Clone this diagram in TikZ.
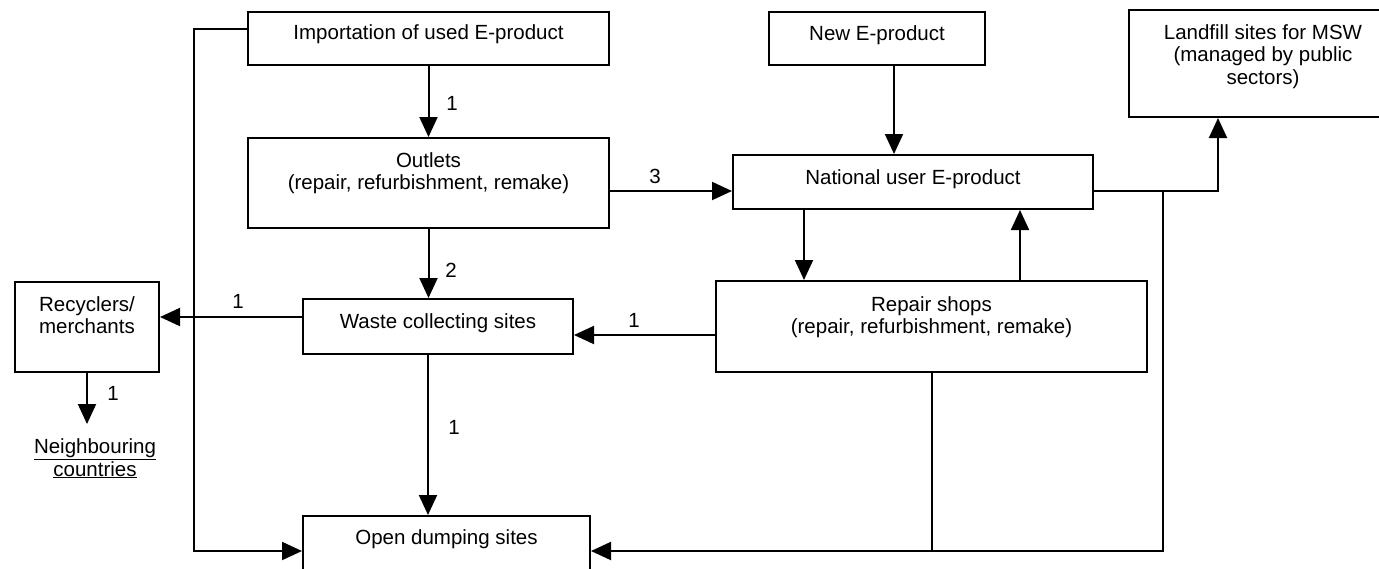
\documentclass[tikz,border=0pt]{standalone}
\usepackage{fontspec}
\setmainfont{Liberation Sans}
\usetikzlibrary{arrows.meta}
\begin{document}
\begin{tikzpicture}[x=1pt,y=-1pt,
  line width=2pt,
  box/.style={draw, line width=2pt, inner sep=0pt, anchor=north west},
  txt/.style={anchor=base, align=center, inner sep=0pt,
    font=\fontsize{20.5}{22.5}\selectfont},
  num/.style={anchor=base, inner sep=0pt, font=\fontsize{20.5}{22.5}\selectfont},
  flow/.style={-{Triangle[length=20pt,width=18pt]}}]
\useasboundingbox (0,0) rectangle (1379,568);
\clip (0,0) rectangle (1379,568);

% boxes
\node[box, minimum width=361pt, minimum height=53pt] (imp) at (247,11) {};
\node[box, minimum width=361pt, minimum height=90pt] (out) at (247,137) {};
\node[box, minimum width=216pt, minimum height=53pt] (new) at (768,11) {};
\node[box, minimum width=268pt, minimum height=107pt] (land) at (1128,9) {};
\node[box, minimum width=360pt, minimum height=54pt] (nat) at (732,154) {};
\node[box, minimum width=431pt, minimum height=91pt] (rep) at (715,280) {};
\node[box, minimum width=270pt, minimum height=55pt] (waste) at (302,298) {};
\node[box, minimum width=144pt, minimum height=90pt] (rec) at (14,281) {};
\node[box, minimum width=287pt, minimum height=55pt] (dump) at (302,515) {};

% box texts (anchored on the baseline of the last line)
\node[txt] (impT) at ([yshift=-28pt]imp.north) {Importation of used E-product};
\node[txt] (outT) at ([yshift=-52.5pt]out.north) {Outlets\\(repair, refurbishment, remake)};
\node[txt] (newT) at ([yshift=-29pt]new.north) {New E-product};
\node[txt] (landT) at ([yshift=-75pt]land.north) {Landfill sites for MSW\\(managed by public\\sectors)};
\node[txt] (natT) at ([yshift=-30pt]nat.north) {National user E-product};
\node[txt] (repT) at ([yshift=-53.5pt]rep.north) {Repair shops\\(repair, refurbishment, remake)};
\node[txt] (wasteT) at ([yshift=-30pt]waste.north) {Waste collecting sites};
\node[txt] (recT) at ([yshift=-52.5pt]rec.north) {Recyclers/\\merchants};
\node[txt] (dumpT) at ([yshift=-29pt]dump.north) {Open dumping sites};
\node[txt] (neigh) at (95,476) {\underline{Neighbouring}\\\underline{countries}};

% routing levels
\coordinate (lx) at (194,29);
\coordinate (dy) at (0,551);
\coordinate (ry) at (0,191);
\coordinate (ax) at (428,0);
\coordinate (nx) at (894,0);
\coordinate (dx) at (804,0);
\coordinate (ux) at (1020,0);
\coordinate (fx) at (1218,0);
\coordinate (jx) at (1163,191);
\coordinate (wy) at (0,335);
\coordinate (ky) at (0,317);
\coordinate (nb) at (0,424);

% connectors
\draw[flow] (imp.west |- lx) -- (lx) |- (dump.west |- dy);
\draw[flow] (imp.south) -- (out.north);
\draw[flow] (out.south) -- (out.south |- waste.north);
\draw[flow] (waste.south -| ax) -- (dump.north -| ax);
\draw[flow] (out.east |- ry) -- (nat.west |- ry);
\draw[flow] (new.south -| nx) -- (nat.north -| nx);
\draw[flow] (nat.south -| dx) -- (rep.north -| dx);
\draw[flow] (rep.north -| ux) -- (nat.south -| ux);
\draw[flow] (nat.east |- ry) -| (land.south -| fx);
\draw[flow] (jx) |- (dump.east |- dy);
\draw (rep.south) -- (rep.south |- dy);
\draw[flow] (rep.west |- wy) -- (waste.east |- wy);
\draw[flow] (waste.west |- ky) -- (rec.east |- ky);
\draw[flow] (rec.south) -- (rec.south |- nb);

% flow labels
\node[num] (l1) at (452,110) {1};
\node[num] (l2) at (451,277) {2};
\node[num] (l3) at (655,183) {3};
\node[num] (l4) at (238,308) {1};
\node[num] (l5) at (634,327) {1};
\node[num] (l6) at (113,400) {1};
\node[num] (l7) at (454,434) {1};
\end{tikzpicture}
\end{document}
